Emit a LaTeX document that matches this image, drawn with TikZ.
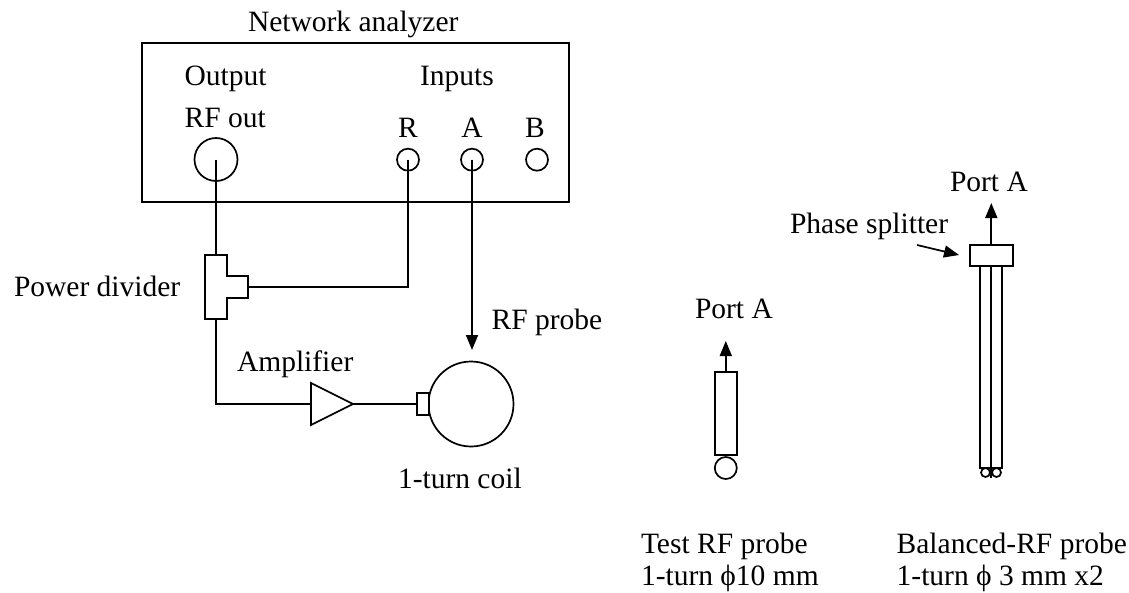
\documentclass[tikz,border=0pt]{standalone}
\usepackage{fontspec}
\setmainfont{Liberation Serif}
\usetikzlibrary{arrows.meta}
\tikzset{
  every node/.style={inner sep=0pt,outer sep=0pt},
  lab/.style={anchor=base west,font=\fontsize{29.5}{35}\selectfont},
  labc/.style={anchor=base,font=\fontsize{29.5}{35}\selectfont},
  port/.style={circle,draw,minimum size=#1},
  part/.style={rectangle,draw,fill=white},
  wire/.style={line join=miter},
  arrowed/.style={-{Triangle[length=15pt,width=12pt]}}
}
\begin{document}
\begin{tikzpicture}[x=1pt,y=-1pt,line width=1.7pt]
\useasboundingbox (0,0) rectangle (1129,592);
% Network analyzer
\node[rectangle,draw,minimum width=427pt,minimum height=159pt] (na) at (355.5,122.5) {};
\node[lab] (tna) at (248,31.7) {Network analyzer};
\node[lab] (tout) at (184.6,85) {Output};
\node[lab] (tin) at (420,85) {Inputs};
\node[lab] (trf) at (184.6,127.7) {RF out};
\node[labc] (tr) at (408,137.7) {R};
\node[labc] (ta) at (472,137.7) {A};
\node[labc] (tb) at (535,137.7) {B};
\node[port=43pt] (rfout) at (216,159.5) {};
\node[port=22pt] (pr) at (408,159.7) {};
\node[port=22pt] (pa) at (472,159.7) {};
\node[port=22pt] (pb) at (537,159.7) {};
% Power divider
\coordinate (dtop) at (216,255);
\coordinate (dright) at (247.7,286.7);
\coordinate (dbot) at (216,319);
\draw[wire] (205,255) -- (227,255) -- (227,276) -- (247.7,276) -- (247.7,297.7) -- (227,297.7) -- (227,319) -- (205,319) -- cycle;
\node[lab] (tpd) at (14,296.7) {Power divider};
\draw (rfout.center) -- (dtop);
\draw[wire] (dright) -| (pr.center);
% Amplifier
\coordinate (ampin) at (311,404);
\coordinate (ampout) at (353,404);
\draw[wire] (ampin |- 0,383) -- (ampout) -- (ampin |- 0,425) -- cycle;
\node[lab] (tamp) at (237,371.7) {Amplifier};
\draw[wire] (dbot) |- (ampin);
% Coil
\node[port=85pt] (coil) at (471,404) {};
\node[part,minimum width=12pt,minimum height=22pt] (conn) at (423,404) {};
\draw (ampout) -- (conn.west);
\coordinate (coiltip) at (472,350);
\draw[arrowed] (pa.center) -- (coiltip);
\node[lab] (trfp) at (491.7,329) {RF probe};
\node[lab] (tcoil) at (398,488) {1-turn coil};
% Test probe
\node[part,minimum width=21.7pt,minimum height=83.3pt] (tprobe) at (725.8,413.6) {};
\node[port=22pt] (tloop) at (725.8,468) {};
\coordinate (tport) at (725.8,341);
\draw[arrowed] (tprobe.north) -- (tport);
\node[lab] (tpa) at (695,318) {Port A};
\node[lab] (ttest) at (641,553) {Test RF probe};
\node[lab] (ttest2) at (641,585) {1-turn \char"03D5 10 mm};
% Balanced probe
\node[part,minimum width=42.7pt,minimum height=21pt] (split) at (991.3,255.5) {};
\coordinate (bl) at (980.3,468.3);
\coordinate (bc) at (991.3,478);
\coordinate (br) at (1002.3,468.3);
\draw[wire] (split.south -| bl) -- (bl) -- (br) -- (split.south -| br);
\draw (split.south) -- (bc);
\node[port=9pt] (l1) at (985.5,472.5) {};
\node[port=9pt] (l2) at (996.5,472.5) {};
\coordinate (bport) at (991.3,203);
\draw[arrowed] (split.north) -- (bport);
\node[lab] (tbpa) at (950,191.7) {Port A};
\node[lab] (tps) at (790,233) {Phase splitter};
\coordinate (psfrom) at (917,245);
\coordinate (psto) at (959,255);
\draw[arrowed] (psfrom) -- (psto);
\node[lab] (tbal) at (896.7,553) {Balanced-RF probe};
\node[lab] (tbal2) at (896.7,585) {1-turn \char"03D5{} 3 mm x2};
\end{tikzpicture}
\end{document}
